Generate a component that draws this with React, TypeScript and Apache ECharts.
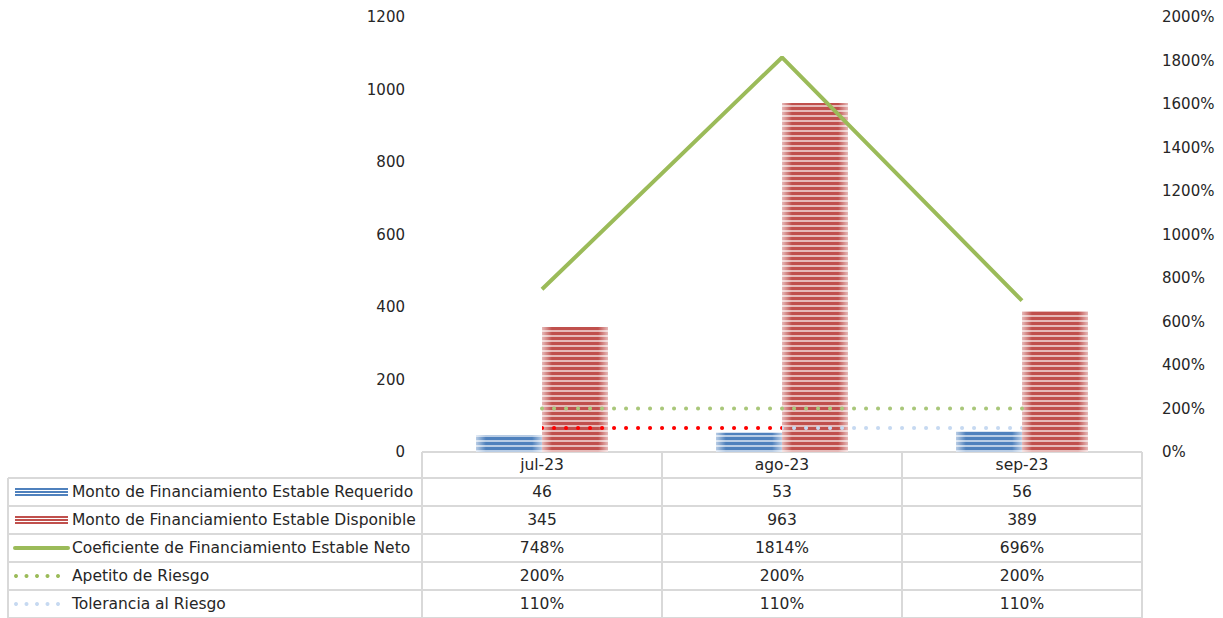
import React, { useEffect, useRef } from "react";
import * as echarts from "echarts";

// Months shown on the category axis
const categories = ["jul-23", "ago-23", "sep-23"];
// Amounts (left axis)
const requerido = [46, 53, 56];
const disponible = [345, 963, 389];
// Ratios in percent (right axis)
const coeficiente = [748, 1814, 696];
const apetito = [200, 200, 200];
const tolerancia = [110, 110, 110];

const seriesNames = [
  "Monto de Financiamiento Estable Requerido",
  "Monto de Financiamiento Estable Disponible",
  "Coeficiente de Financiamiento Estable Neto",
  "Apetito de Riesgo",
  "Tolerancia al Riesgo",
];

const FONT = "DejaVu Sans";
const TEXT = "#262626";
const GRID_LINE = "#d9d9d9";
const BLUE = "#4f81bd";
const RED = "#c0504d";
const GREEN = "#9bbb59";
const PALE_BLUE = "#c6d9f1";

// plot layout
const W = 1223;
const H = 618;
const PLOT_L = 422;
const PLOT_R = 1142;
const PLOT_T = 17;
const PLOT_B = 452;
const ROW_H = 28;
const TABLE_L = 8;
const TABLE_FONT = 15.5;

function barFill(base: string, edge: string) {
  return new echarts.graphic.LinearGradient(0, 0, 1, 0, [
    { offset: 0, color: edge },
    { offset: 0.15, color: base },
    { offset: 0.85, color: base },
    { offset: 1, color: edge },
  ]);
}

const stripes = {
  symbol: "rect",
  symbolSize: 1,
  color: "rgba(255,255,255,0.6)",
  dashArrayX: [1, 0],
  dashArrayY: [1.3, 2.4],
  rotation: 0,
};

function buildTable(): any[] {
  const els: any[] = [];
  const cellW = (PLOT_R - PLOT_L) / categories.length;
  const lineStyle = { stroke: GRID_LINE, lineWidth: 2 };
  // top border of the category header row
  els.push({ type: "line", shape: { x1: PLOT_L, y1: PLOT_B, x2: PLOT_R, y2: PLOT_B }, style: lineStyle, z: 1 });
  // row borders
  for (let r = 0; r <= seriesNames.length; r++) {
    const y = PLOT_B + ROW_H + r * ROW_H - 2;
    els.push({ type: "line", shape: { x1: TABLE_L, y1: y, x2: PLOT_R, y2: y }, style: lineStyle });
  }
  // column borders
  for (let c = 0; c <= categories.length; c++) {
    const x = PLOT_L + c * cellW;
    els.push({ type: "line", shape: { x1: x, y1: PLOT_B, x2: x, y2: H }, style: lineStyle });
  }
  els.push({ type: "line", shape: { x1: TABLE_L, y1: PLOT_B + ROW_H - 2, x2: TABLE_L, y2: H }, style: lineStyle });

  const rows = [
    { values: requerido, fmt: (v: number) => String(v) },
    { values: disponible, fmt: (v: number) => String(v) },
    { values: coeficiente, fmt: (v: number) => v + "%" },
    { values: apetito, fmt: (v: number) => v + "%" },
    { values: tolerancia, fmt: (v: number) => v + "%" },
  ];
  rows.forEach((row, r) => {
    const cy = PLOT_B + ROW_H + r * ROW_H + 12;
    // series name
    els.push({
      type: "text",
      x: 72,
      y: cy,
      style: { text: seriesNames[r], fill: TEXT, font: `${TABLE_FONT}px '${FONT}'`, textVerticalAlign: "middle" },
    });
    // legend key
    if (r < 2) {
      const color = r === 0 ? BLUE : RED;
      for (let k = 0; k < 3; k++) {
        els.push({ type: "rect", shape: { x: 15, y: cy - 4 + k * 3, width: 53, height: 2 }, style: { fill: color } });
      }
    } else if (r === 2) {
      els.push({
        type: "line",
        shape: { x1: 15, y1: cy, x2: 68, y2: cy },
        style: { stroke: GREEN, lineWidth: 4, lineCap: "round" },
      });
    } else {
      const color = r === 3 ? GREEN : PALE_BLUE;
      for (let k = 0; k < 5; k++) {
        els.push({ type: "circle", shape: { cx: 16 + k * 10.5, cy, r: 2 }, style: { fill: color } });
      }
    }
    // values
    row.values.forEach((v, i) => {
      els.push({
        type: "text",
        x: PLOT_L + cellW * (i + 0.5),
        y: cy,
        style: {
          text: row.fmt(v),
          fill: TEXT,
          font: `${TABLE_FONT}px '${FONT}'`,
          textAlign: "center",
          textVerticalAlign: "middle",
        },
      });
    });
  });
  return els;
}

export default function App() {
  const ref = useRef<HTMLDivElement>(null);
  useEffect(() => {
    if (!ref.current) return;
    const chart = echarts.init(ref.current, null, { renderer: "svg" });
    const option: any = {
      animation: false,
      backgroundColor: "#ffffff",
      textStyle: { fontFamily: FONT },
      grid: { left: PLOT_L, right: W - PLOT_R, top: PLOT_T, bottom: H - PLOT_B },
      xAxis: {
        type: "category",
        data: categories,
        axisLine: { show: false },
        axisTick: { show: false },
        axisLabel: { color: TEXT, fontSize: TABLE_FONT, fontFamily: FONT, margin: 5 },
      },
      yAxis: [
        {
          type: "value",
          min: 0,
          max: 1200,
          interval: 200,
          splitLine: { show: false },
          axisLine: { show: false },
          axisTick: { show: false },
          axisLabel: {
            color: TEXT,
            fontSize: 15,
            fontFamily: FONT,
            margin: 17,
            formatter: (v: number) => String(v),
          },
        },
        {
          type: "value",
          min: 0,
          max: 2000,
          interval: 200,
          splitLine: { show: false },
          axisLine: { show: false },
          axisTick: { show: false },
          axisLabel: {
            color: TEXT,
            fontSize: 15,
            fontFamily: FONT,
            margin: 20,
            formatter: (v: number) => v + "%",
          },
        },
      ],
      visualMap: {
        type: "piecewise",
        show: false,
        seriesIndex: 4,
        dimension: 0,
        pieces: [
          { gte: 0, lt: 1, color: "#ff0000" },
          { gte: 1, lte: 2, color: PALE_BLUE },
        ],
      },
      series: [
        {
          name: seriesNames[0],
          type: "bar",
          data: requerido,
          barGap: "0%",
          barCategoryGap: "45%",
          itemStyle: { color: barFill(BLUE, "#b9cde5"), decal: stripes },
        },
        {
          name: seriesNames[1],
          type: "bar",
          data: disponible,
          barGap: "0%",
          barCategoryGap: "45%",
          itemStyle: { color: barFill(RED, "#e6b9b8"), decal: stripes },
        },
        {
          name: seriesNames[2],
          type: "line",
          yAxisIndex: 1,
          data: coeficiente,
          symbol: "none",
          lineStyle: { color: GREEN, width: 4 },
          z: 5,
        },
        {
          name: seriesNames[3],
          type: "line",
          yAxisIndex: 1,
          data: apetito,
          symbol: "none",
          lineStyle: { color: "#a9c77a", width: 4, type: [0.1, 11.9], cap: "round" },
          z: 5,
        },
        {
          name: seriesNames[4],
          type: "line",
          yAxisIndex: 1,
          data: tolerancia,
          symbol: "none",
          lineStyle: { width: 4, type: [0.1, 11.9], cap: "round" },
          z: 5,
        },
      ],
      graphic: buildTable(),
    };
    chart.setOption(option);
    return () => chart.dispose();
  }, []);
  return <div ref={ref} style={{ position: "fixed", left: 0, top: 0, width: W, height: H }} />;
}
